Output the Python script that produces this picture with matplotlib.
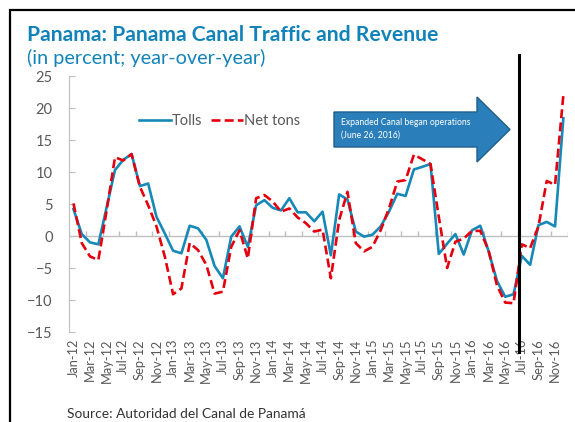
import numpy as np
import matplotlib.pyplot as plt
from matplotlib.patches import Polygon, Rectangle
from matplotlib.transforms import blended_transform_factory

plt.rcParams['font.family'] = ['Lato', 'DejaVu Sans']

# Year-over-year change, Jan-2012 .. Dec-2016
month_names = ['Jan', 'Feb', 'Mar', 'Apr', 'May', 'Jun',
               'Jul', 'Aug', 'Sep', 'Oct', 'Nov', 'Dec']
years = [12, 13, 14, 15, 16]
labels = [f"{m}-{y}" for y in years for m in month_names]

tolls = [4.2, 0.3, -1.0, -1.3, 4.5, 10.3, 11.9, 12.8, 7.8, 8.2, 3.0, 0.4,
         -2.3, -2.7, 1.6, 1.2, -0.6, -4.7, -6.6, -0.1, 1.5, -1.7, 4.8, 5.6,
         4.4, 4.0, 5.9, 3.7, 3.7, 2.3, 3.8, -3.0, 6.5, 5.7, 0.7, -0.1,
         0.2, 1.5, 3.8, 6.6, 6.25, 10.4, 10.8, 11.25, -2.8, -1.2, 0.3, -2.9,
         0.9, 1.6, -2.4, -7.0, -9.5, -9.1, -3.1, -4.5, 1.7, 2.2, 1.5, 18.4]
net_tons = [5.1, -1.1, -3.2, -3.75, 4.0, 12.3, 11.8, 12.8, 7.7, 4.8, 1.5, -3.2,
            -9.1, -8.2, -1.1, -2.2, -4.5, -9.0, -8.7, -1.7, 0.9, -3.5, 5.9, 6.4,
            5.4, 3.8, 4.3, 2.9, 2.0, 0.7, 1.0, -6.6, 2.5, 6.9, -1.1, -2.4,
            -1.7, 0.9, 4.3, 8.5, 8.75, 12.7, 12.0, 11.25, 3.0, -5.0, -0.9, -0.4,
            0.8, 0.8, -2.3, -7.7, -10.4, -10.5, -1.3, -1.9, 1.5, 8.6, 8.0, 22.0]

event_pos = 53.7   # June 26, 2016
event_text = "Expanded Canal began operations\n(June 26, 2016)"

BLUE = '#1689B8'
RED = '#E5000E'
TITLE = '#1283B9'
GRAY = '#BFBFBF'
TXT = '#595959'

W, H = 575, 422
fig = plt.figure(figsize=(W / 100, H / 100), dpi=100)

ax = fig.add_axes([69.3 / W, 1 - 332 / H, (567.5 - 69.3) / W, 256 / H])
x = np.arange(len(tolls))
ax.plot(x, tolls, color=BLUE, lw=1.9, label='Tolls', zorder=3)
ax.plot(x, net_tons, color=RED, lw=1.9, ls=(0, (3.4, 1.6)), label='Net tons', zorder=4)

ax.set_xlim(-0.5, len(x) - 0.5)
ax.set_ylim(-15, 25)
ax.set_yticks(range(-15, 26, 5))
ax.tick_params(axis='y', direction='in', length=4, color=GRAY, labelcolor=TXT,
               labelsize=10.5, pad=12)
ax.set_xticks(x[::2])
ax.set_xticklabels(labels[::2], rotation=90)
ax.tick_params(axis='x', length=0, labelcolor=TXT, labelsize=9.3, pad=5)
for s in ['top', 'right', 'bottom']:
    ax.spines[s].set_visible(False)
ax.spines['left'].set_color(GRAY)

# category axis at zero, tick marks every two months
ax.axhline(0, color=GRAY, lw=1, zorder=1)
ax.vlines(np.arange(0, len(x) + 1, 2) - 0.5, 0, 0.8, color=GRAY, lw=1, zorder=1)

# canal expansion marker
tr = blended_transform_factory(ax.transData, ax.transAxes)
ax.plot([event_pos, event_pos], [1.082, -0.078], transform=tr, color='black',
        lw=2.2, clip_on=False, zorder=5)

ax.legend(loc='center left', bbox_to_anchor=(139 / W, 1 - 121 / H),
          bbox_transform=fig.transFigure, ncol=2, frameon=False,
          handlelength=2.2, handletextpad=0.05, columnspacing=0.6,
          borderpad=0, borderaxespad=0, fontsize=10.5, labelcolor=TXT)

# block arrow
left, body_end, tip = 334, 477, 510
top, bot, head_top, head_bot = 112, 147, 97, 162
mid = (head_top + head_bot) / 2
pts = [(left, top), (body_end, top), (body_end, head_top), (tip, mid),
       (body_end, head_bot), (body_end, bot), (left, bot)]
pts = [(px / W, 1 - py / H) for px, py in pts]
fig.add_artist(Polygon(pts, closed=True, transform=fig.transFigure,
                       fc='#2A7FBA', ec='#1F5E8A', lw=1, zorder=6))
fig.text(341 / W, 1 - 128.5 / H, event_text, color='white', fontsize=6.2,
         va='center', ha='left', linespacing=1.5, zorder=7)

fig.text(27 / W, 1 - 41 / H, "Panama: Panama Canal Traffic and Revenue",
         fontsize=15.2, weight='bold', color=TITLE, va='baseline')
fig.text(27 / W, 1 - 64 / H, "(in percent; year-over-year)",
         fontsize=14.3, color=TITLE, va='baseline')
fig.text(67 / W, 1 - 418 / H, "Source: Autoridad del Canal de Panamá",
         fontsize=9.9, color='#333333', va='baseline')

# outer frame
fig.add_artist(Rectangle((10 / W, -0.1), 1.2, 1 - 10 / H + 0.1,
                         transform=fig.transFigure, fill=False, ec='black', lw=1.6))

fig.savefig('out.png', dpi=100)
